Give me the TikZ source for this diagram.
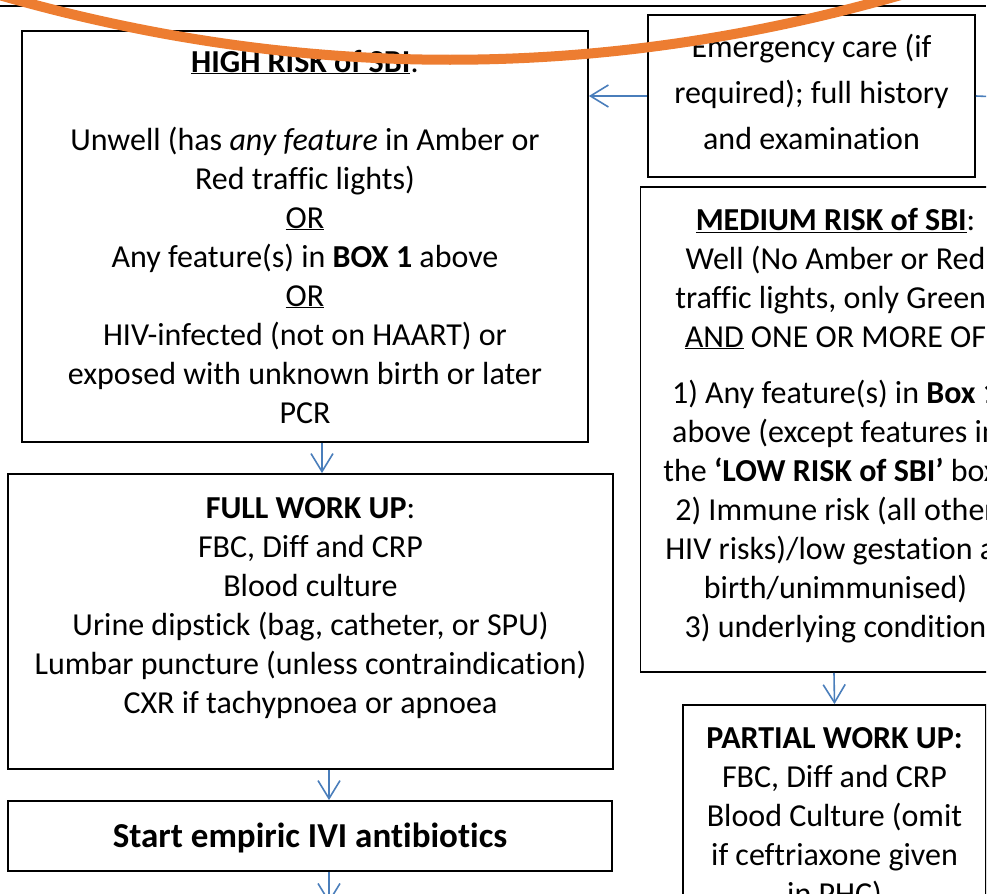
\documentclass[tikz,border=0pt]{standalone}
\usepackage{fontspec}
\setmainfont{Carlito}[Ligatures={TeX,NoCommon}]
\usetikzlibrary{arrows.meta}
\definecolor{connblue}{RGB}{74,126,187}
\definecolor{curveorange}{RGB}{237,125,49}
\newcommand\padtop[1]{\rule{0pt}{#1}}
\newcommand\padbottom[1]{\rule[-#1]{0pt}{#1}}
\begin{document}
\begin{tikzpicture}[x=1pt,y=-1pt,
  boxnode/.style={draw=black, line width=1.8pt, align=center, inner sep=0pt,
    font=\fontsize{32}{39}\selectfont},
  arr/.style={draw=connblue, line width=1.6pt,
    -{Straight Barb[length=18pt,width=22pt,line width=1.6pt]}},
  conn/.style={draw=connblue, line width=1.6pt},
  toprule/.style={draw=black, line width=2pt},
  orangearc/.style={draw=curveorange, line width=10pt},
]
\useasboundingbox (0,0) rectangle (991,894);
\clip (0,0) rectangle (986,894);

\draw[toprule] (0,6) -- (986,6);

\node[boxnode, minimum width=566pt, minimum height=411pt] (high) at (305,236.5)
 {\underline{\textbf{HIGH RISK of SBI}}:\\[39pt]
  Unwell (has \textit{any feature} in Amber or\\
  Red traffic lights)\\
  \underline{OR}\\
  Any feature(s) in \textbf{BOX 1} above\\
  \underline{OR}\\
  HIV-infected (not on HAART) or\\
  exposed with unknown birth or later\\
  PCR};

\node[boxnode, minimum width=327pt, minimum height=162pt,
      font=\fontsize{32}{46}\selectfont] (emerg) at (811.5,96)
 {Emergency care (if\\ required); full history\\ and examination\padbottom{8pt}};

\node[boxnode, minimum width=390pt, minimum height=485pt] (med) at (835.5,429.5)
 {\underline{\textbf{MEDIUM RISK of SBI}}:\\
  Well (No Amber or Red\\
  traffic lights, only Green)\\
  \underline{AND} ONE OR MORE OF\\[17pt]
  1) Any feature(s) in \textbf{Box 1}\\
  above (except features in\\
  the \textbf{‘LOW RISK of SBI’} box)\\
  2) Immune risk (all other\\
  HIV risks)/low gestation at\\
  birth/unimmunised)\\
  3) underlying condition\padbottom{14pt}};

\node[boxnode, minimum width=303pt, minimum height=219pt] (partial) at (834.5,814.5)
 {\padtop{29pt}\textbf{PARTIAL WORK UP:}\\
  FBC, Diff and CRP\\
  Blood Culture (omit\\
  if ceftriaxone given\\
  in PHC)};

\node[boxnode, minimum width=605pt, minimum height=295pt] (full) at (310.5,621.5)
 {\padtop{27pt}\textbf{FULL WORK UP}:\\
  FBC, Diff and CRP\\
  Blood culture\\
  Urine dipstick (bag, catheter, or SPU)\\
  Lumbar puncture (unless contraindication)\\
  CXR if tachypnoea or apnoea\\
  \mbox{}};

\node[boxnode, minimum width=604pt, minimum height=70pt,
      font=\fontsize{35}{42}\selectfont\bfseries] (start) at (310,836)
 {\padtop{29pt}Start empiric IVI antibiotics};

\coordinate (rightend) at (1000,97);
\coordinate (downend) at (329,903);

\draw[arr] (emerg.west) -- (emerg.west -| high.east);
\draw[conn] (emerg.east) -- (rightend);
\draw[arr] ([xshift=17pt]high.south) -- ([xshift=11.5pt]full.north);
\draw[arr] ([xshift=18.5pt]full.south) -- ([xshift=19pt]start.north);
\draw[arr] ([xshift=19pt]start.south) -- (downend);
\draw[arr] ([xshift=-1.5pt]med.south) -- (partial.north);

\draw[orangearc] (-18,-10) .. controls (294,83) and (606,83) .. (918,-10);
\end{tikzpicture}
\end{document}
